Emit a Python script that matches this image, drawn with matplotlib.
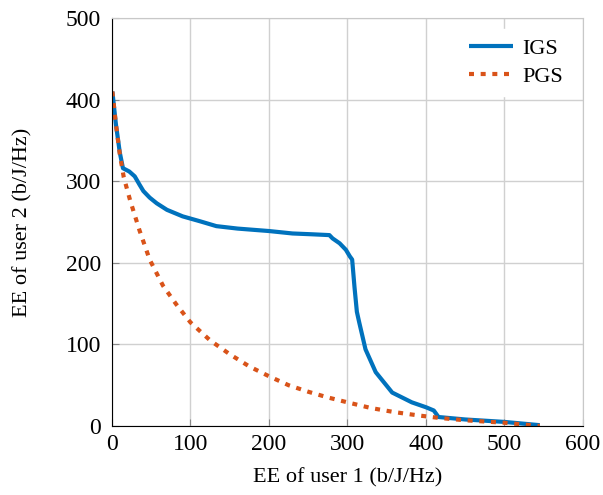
import matplotlib
matplotlib.use('Agg')
import matplotlib.pyplot as plt

plt.rcParams['font.family'] = ['Liberation Serif', 'DejaVu Serif']

# IGS curve (EE user 1, EE user 2)
igs_x = [0.5, 5, 10, 14, 22, 29, 35, 40, 48, 57, 70, 90, 112, 133, 160, 200, 230, 255, 277, 281, 290, 298, 303, 306,
         309, 312, 315, 323, 336, 357, 382, 400, 410, 416, 450, 500, 545]
igs_y = [410, 370, 335, 316, 312, 306, 296, 288, 280, 273, 265, 257, 251, 245, 242, 239, 236, 235, 234, 230, 224, 216, 208, 204,
         170, 140, 127, 94, 66, 41, 29, 23, 19, 11, 8, 5, 1]

# PGS curve
pgs_x = [0.5, 5, 10, 15, 23, 35, 48, 65, 82, 100, 125, 150, 175, 200, 225, 250, 275, 300, 330, 360, 390, 416, 450, 500, 545]
pgs_y = [410, 370, 333, 305, 277, 240, 204, 172, 149, 127, 105, 88, 73, 61, 50, 42, 35, 29, 22, 17, 13, 10, 7, 4, 0]

fig = plt.figure(figsize=(6.03, 4.95), dpi=100)
ax = fig.add_axes([0.1857, 0.1394, 0.781, 0.824])

ax.plot(igs_x, igs_y, color='#0072BD', linewidth=3, label='IGS', solid_capstyle='butt')
ax.plot(pgs_x, pgs_y, color='#D95319', linewidth=3, linestyle=(0, (1.2, 1.6)), label='PGS')

ax.set_xlim(0, 600)
ax.set_ylim(0, 500)
ax.set_xticks(range(0, 601, 100))
ax.set_yticks(range(0, 501, 100))
ax.grid(True, color='#d0d0d0', linewidth=1)
ax.set_axisbelow(True)
for s in ['top', 'right']:
    ax.spines[s].set_color('#c8c8c8')
ax.tick_params(direction='in', length=5, color='#888888', labelsize=17)
ax.tick_params(axis='y', pad=8)
ax.tick_params(axis='x', pad=6)

ax.set_xlabel('EE of user 1 (b/J/Hz)', fontsize=16, labelpad=9)
ax.set_ylabel('EE of user 2 (b/J/Hz)', fontsize=16, labelpad=24)

leg = ax.legend(loc='upper right', fontsize=16, frameon=True, fancybox=False,
                handlelength=2.0, handletextpad=0.4, labelspacing=0.35,
                borderaxespad=0.5)
leg.get_frame().set_edgecolor('white')
leg.get_frame().set_alpha(1)

fig.savefig('out.png', dpi=100)
